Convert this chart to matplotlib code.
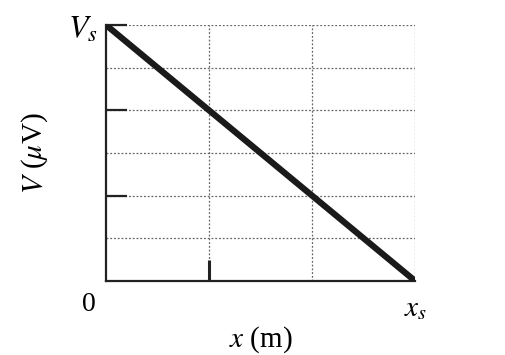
import matplotlib
matplotlib.use("Agg")
import matplotlib.pyplot as plt
import numpy as np

plt.rcParams['font.family'] = ['Liberation Serif', 'DejaVu Serif']
plt.rcParams['mathtext.fontset'] = 'stix'

# data: straight drop from V_s at x=0 to 0 at x_s
x_vals = [0, 3]
v_vals = [6, 0]
x_grid = [1, 2, 3]
y_grid = [1, 2, 3, 4, 5, 6]
y_ticks = [2, 4, 6]
x_ticks = [1]

fig = plt.figure(figsize=(5.06, 3.55), dpi=100)
ax = fig.add_axes([0.2095, 0.2085, 0.611, 0.7211])

for gx in x_grid:
    ax.axvline(gx, color="#666666", lw=0.9, ls=(0, (1.5, 1.5)), zorder=1)
for gy in y_grid:
    ax.axhline(gy, color="#666666", lw=0.9, ls=(0, (1.5, 1.5)), zorder=1)

ax.plot(x_vals, v_vals, color="#1a1a1a", lw=4.5, solid_capstyle="butt", zorder=3)

ax.set_xlim(0, 3)
ax.set_ylim(0, 6)
for s in ["top", "right"]:
    ax.spines[s].set_visible(False)
for s in ["left", "bottom"]:
    ax.spines[s].set_linewidth(1.6)
    ax.spines[s].set_color("#222222")

ax.set_xticks(x_ticks)
ax.set_yticks(y_ticks)
ax.tick_params(axis="y", direction="in", length=15, width=1.6, color="#222222", labelleft=False)
ax.tick_params(axis="x", direction="in", length=15, width=2.2, color="#222222", labelbottom=False)

ax.text(-0.22, 5.88, r"$V_s$", fontsize=23, ha="center", va="center")
ax.text(-0.17, -0.56, "0", fontsize=20, ha="center", va="center")
ax.text(3.0, -0.67, r"$x_s$", fontsize=21, ha="center", va="center")

ax.set_xlabel(r"$x$ (m)", fontsize=21, labelpad=31)
ax.set_ylabel(r"$V$ ($\mu$V)", fontsize=21, labelpad=40)

fig.savefig("out.png", dpi=100)
